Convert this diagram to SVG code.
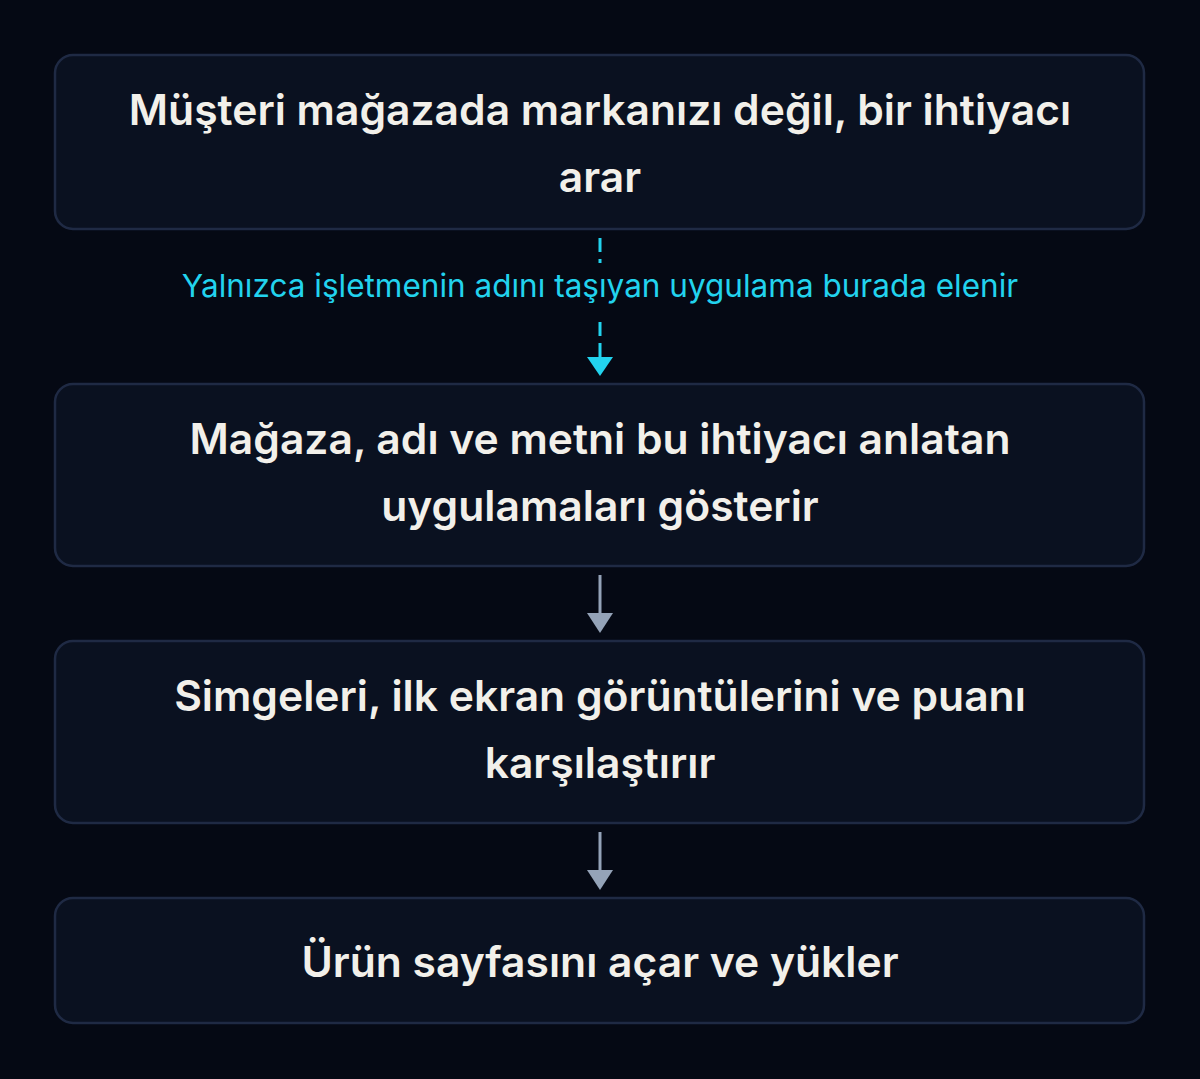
<svg xmlns="http://www.w3.org/2000/svg" width="1200" height="1079" viewBox="0 0 1200 1079">
<defs>
<style>
.box{fill:#0a1120;stroke:#1f2a44;stroke-width:2.5}
.t{font-family:Inter,"Noto Sans",sans-serif;font-weight:600;font-size:42.6px;fill:#f2f0ea;text-anchor:middle}
.lbl{font-family:Inter,"Noto Sans",sans-serif;font-weight:400;font-size:31.5px;fill:#22d3ee;text-anchor:middle}
.solid{stroke:#94a3b8;stroke-width:3;fill:none}
.dash{stroke:#22d3ee;stroke-width:3;fill:none;stroke-dasharray:14 7}
</style>
</defs>
<rect width="1200" height="1079" fill="#050914"/>
<g id="connectors">
<g id="c1">
<line class="dash" x1="600" y1="238" x2="600" y2="357"/>
<path d="M587 357 L613 357 L600 376 Z" fill="#22d3ee"/>
<rect x="160" y="263" width="880" height="52" fill="#050914"/>
<text class="lbl" x="600" y="297">Yalnızca işletmenin adını taşıyan uygulama burada elenir</text>
</g>
<g id="c2">
<line class="solid" x1="600" y1="575" x2="600" y2="614"/>
<path d="M587 613 L613 613 L600 633 Z" fill="#94a3b8"/>
</g>
<g id="c3">
<line class="solid" x1="600" y1="832" x2="600" y2="871"/>
<path d="M587 870 L613 870 L600 890 Z" fill="#94a3b8"/>
</g>
</g>
<g id="n1">
<rect class="box" x="55" y="55" width="1089" height="174" rx="18"/>
<text class="t" x="600" y="125">Müşteri mağazada markanızı değil, bir ihtiyacı</text>
<text class="t" x="600" y="192">arar</text>
</g>
<g id="n2">
<rect class="box" x="55" y="384" width="1089" height="182" rx="18"/>
<text class="t" x="600" y="454">Mağaza, adı ve metni bu ihtiyacı anlatan</text>
<text class="t" x="600" y="521">uygulamaları gösterir</text>
</g>
<g id="n3">
<rect class="box" x="55" y="641" width="1089" height="182" rx="18"/>
<text class="t" x="600" y="711">Simgeleri, ilk ekran görüntülerini ve puanı</text>
<text class="t" x="600" y="778">karşılaştırır</text>
</g>
<g id="n4">
<rect class="box" x="55" y="898" width="1089" height="125" rx="18"/>
<text class="t" x="600" y="977">Ürün sayfasını açar ve yükler</text>
</g>
</svg>
